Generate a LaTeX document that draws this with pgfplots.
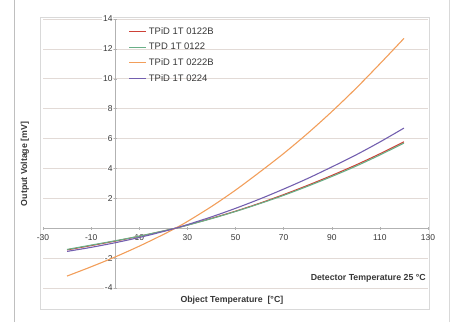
\documentclass[border=0pt]{standalone}
\usepackage{pgfplots}
\pgfplotsset{compat=1.18}
\usepackage{fontspec}
\setmainfont{Liberation Sans}
\definecolor{cred}{RGB}{205,65,55}
\definecolor{cgreen}{RGB}{105,175,135}
\definecolor{corange}{RGB}{242,158,90}
\definecolor{cpurple}{RGB}{115,95,175}
\definecolor{cgrid}{RGB}{226,218,214}
\definecolor{ctext}{RGB}{55,55,55}
\begin{document}
\begin{tikzpicture}[x=1bp,y=1bp]
\path[use as bounding box] (0,0) rectangle (453,322);
\draw[black!25, line width=0.8pt] (14,0) -- (14,322);
\draw[black!15, line width=0.8pt] (449,0) -- (449,322);
\draw[black!15, line width=0.6pt] (40,13) rectangle (429,305);
\begin{axis}[
  at={(43bp,34bp)}, anchor=south west,
  scale only axis, width=385bp, height=269bp,
  xmin=-30, xmax=130, ymin=-4, ymax=14,
  axis lines=middle,
  axis line style={-, draw=black!30, line width=0.6pt},
  xtick={-30,-10,10,30,50,70,90,110,130},
  ytick={-4,-2,0,2,4,6,8,10,12,14},
  tick style={draw=black!30, line width=0.5pt},
  major tick length=3bp,
  ymajorgrids, grid style={draw=cgrid, line width=0.6pt},
  ticklabel style={font=\fontsize{8.5}{10}\selectfont, text=ctext},
  /pgf/number format/assume math mode=true,
  yticklabel style={fill=white, inner sep=1pt},
  xticklabel style={yshift=-1bp},
  clip=false,
  legend cell align=left,
  legend style={at={(rel axis cs:0.215,0.985)}, anchor=north west, draw=none, fill=none,
    font=\fontsize{9.5}{11}\selectfont, text=ctext, row sep=3.5bp},
  legend image post style={line width=1pt},
]
\addplot[cred, line width=1.1pt, smooth] coordinates {
(-20,-1.45) (-10,-1.16) (0,-0.86) (10,-0.54) (20,-0.19) (25,0) (30,0.21) (40,0.66) (50,1.14) (60,1.67) (70,2.25) (80,2.87) (90,3.53) (100,4.23) (110,4.98) (120,5.78)};
\addlegendentry{TPiD 1T 0122B}
\addplot[cgreen, line width=1.1pt, smooth] coordinates {
(-20,-1.42) (-10,-1.13) (0,-0.84) (10,-0.53) (20,-0.18) (25,0) (30,0.20) (40,0.64) (50,1.12) (60,1.64) (70,2.20) (80,2.81) (90,3.46) (100,4.15) (110,4.90) (120,5.70)};
\addlegendentry{TPD 1T 0122}
\addplot[corange, line width=1.1pt, smooth] coordinates {
(-20,-3.20) (-10,-2.58) (0,-1.92) (10,-1.20) (20,-0.42) (25,0) (30,0.45) (40,1.45) (50,2.55) (60,3.75) (70,5.00) (80,6.35) (90,7.80) (100,9.35) (110,11.00) (120,12.70)};
\addlegendentry{TPiD 1T 0222B}
\addplot[cpurple, line width=1.1pt, smooth] coordinates {
(-20,-1.55) (-10,-1.28) (0,-0.97) (10,-0.62) (20,-0.22) (25,0) (30,0.24) (40,0.76) (50,1.33) (60,1.95) (70,2.62) (80,3.33) (90,4.10) (100,4.90) (110,5.77) (120,6.70)};
\addlegendentry{TPiD 1T 0224}
\node[anchor=east, font=\bfseries\fontsize{8.8}{10}\selectfont, text=ctext] at (axis cs:130.5,-3.35) {Detector Temperature 25 °C};
\node[anchor=center, font=\bfseries\fontsize{8.8}{10}\selectfont, text=ctext] at (axis cs:48.5,-4.85) {Object Temperature \ [°C]};
\node[anchor=center, rotate=90, font=\bfseries\fontsize{8.8}{10}\selectfont, text=ctext] at (axis cs:-37.5,4.3) {Output Voltage [mV]};
\end{axis}
\end{tikzpicture}
\end{document}
